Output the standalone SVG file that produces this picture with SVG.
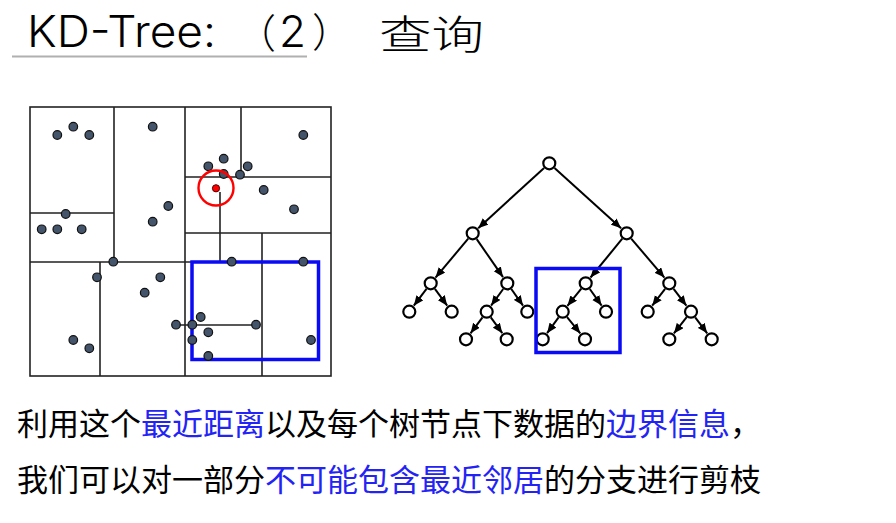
<svg xmlns="http://www.w3.org/2000/svg" width="896" height="523" viewBox="0 0 896 523">
<style>
.t{font-family:"Noto Sans CJK SC","Liberation Sans",sans-serif;fill:#000}
.lat{font-family:Inter,"Noto Sans","Liberation Sans",sans-serif;font-size:44px;font-weight:300;fill:#000}
.cjk{font-family:"Noto Sans CJK SC",sans-serif;font-size:40px;font-weight:300;fill:#000}
.body{font-size:31px}
.hl{fill:#2323f5}
.kl{stroke:#222;stroke-width:1.6;fill:none}
.pt{fill:#44546a;stroke:#111;stroke-width:1.2}
.nd{fill:#fff;stroke:#000;stroke-width:2.2}
.ed{stroke:#000;stroke-width:2;fill:none;marker-end:url(#ah)}
.bb{fill:none;stroke:#0a0af5;stroke-width:3.5}
</style>
<defs>
<marker id="ah" markerUnits="userSpaceOnUse" markerWidth="11" markerHeight="9" refX="10" refY="4.25" orient="auto">
<path d="M0,0 L10,4.25 L0,8.5 z" fill="#000"/>
</marker>
</defs>
<rect width="896" height="523" fill="#fff"/>
<g id="title">
<text class="lat" x="27" y="47" textLength="189" lengthAdjust="spacingAndGlyphs">KD-Tree:</text>
<text class="cjk" y="48"><tspan x="236">（</tspan><tspan class="lat" x="279" y="47">2</tspan><tspan x="312">）</tspan></text>
<text class="cjk" x="379" y="49" textLength="105" lengthAdjust="spacingAndGlyphs">查询</text>
<line x1="12" y1="56.5" x2="307" y2="56.5" stroke="#b0b0b0" stroke-width="2"/>
</g>
<g id="kd-space">
<rect x="30" y="107" width="301" height="269" class="kl"/>
<path class="kl" d="M114,107V262 M30,213H114 M30,262H192 M100,262V376 M185,107V376 M241,107V177 M185,177H331 M220,192V262 M185,233H331 M262,233V376 M176,325H256"/>
<rect x="192" y="262" width="126.5" height="97.5" class="bb"/>
<g id="points">
<circle class="pt" cx="57.3" cy="135" r="4.3"/><circle class="pt" cx="73.3" cy="126.7" r="4.3"/><circle class="pt" cx="89.3" cy="135" r="4.3"/>
<circle class="pt" cx="152.7" cy="126.7" r="4.3"/><circle class="pt" cx="168.3" cy="206" r="4.3"/><circle class="pt" cx="152.7" cy="221.7" r="4.3"/>
<circle class="pt" cx="65.7" cy="214" r="4.3"/><circle class="pt" cx="41.7" cy="229.3" r="4.3"/><circle class="pt" cx="57.3" cy="229.3" r="4.3"/><circle class="pt" cx="81.7" cy="229.3" r="4.3"/>
<circle class="pt" cx="303.3" cy="135" r="4.3"/><circle class="pt" cx="223.7" cy="158.7" r="4.3"/><circle class="pt" cx="208.3" cy="166.3" r="4.3"/><circle class="pt" cx="247.7" cy="166.3" r="4.3"/>
<circle class="pt" cx="223.7" cy="174" r="4.3"/><circle class="pt" cx="240" cy="174.7" r="4.3"/><circle class="pt" cx="263.7" cy="190" r="4.3"/><circle class="pt" cx="294" cy="209.3" r="4.3"/>
<circle class="pt" cx="113.3" cy="261.7" r="4.3"/><circle class="pt" cx="97" cy="277.3" r="4.3"/><circle class="pt" cx="160.3" cy="277.3" r="4.3"/><circle class="pt" cx="144.7" cy="292.7" r="4.3"/>
<circle class="pt" cx="176" cy="324.7" r="4.3"/><circle class="pt" cx="73.3" cy="340" r="4.3"/><circle class="pt" cx="89.3" cy="348.3" r="4.3"/>
<circle class="pt" cx="231.7" cy="261.7" r="4.3"/><circle class="pt" cx="303.3" cy="261.7" r="4.3"/><circle class="pt" cx="200.7" cy="317" r="4.3"/><circle class="pt" cx="192.3" cy="324.7" r="4.3"/>
<circle class="pt" cx="256" cy="324.7" r="4.3"/><circle class="pt" cx="208.3" cy="332.3" r="4.3"/><circle class="pt" cx="192.3" cy="340" r="4.3"/><circle class="pt" cx="311" cy="340" r="4.3"/><circle class="pt" cx="208.3" cy="356" r="4.3"/>
</g>
<g id="query">
<circle cx="216" cy="188" r="17.5" fill="none" stroke="#f00" stroke-width="2.4"/>
<circle cx="216" cy="188.3" r="3.6" fill="#f00" stroke="#500" stroke-width="1"/>
</g>
</g>
<g id="connectors">
<line class="ed" x1="544.1" y1="168.0" x2="478.2" y2="228.2"/>
<line class="ed" x1="554.5" y1="168.0" x2="621.1" y2="228.3"/>
<line class="ed" x1="468.2" y1="238.7" x2="435.5" y2="277.6"/>
<line class="ed" x1="476.7" y1="239.1" x2="503.0" y2="277.1"/>
<line class="ed" x1="622.3" y1="238.7" x2="590.5" y2="277.5"/>
<line class="ed" x1="631.2" y1="238.6" x2="664.4" y2="277.6"/>
<line class="ed" x1="426.5" y1="288.9" x2="413.8" y2="305.7"/>
<line class="ed" x1="434.9" y1="288.9" x2="447.2" y2="305.7"/>
<line class="ed" x1="503.2" y1="289.0" x2="491.1" y2="305.6"/>
<line class="ed" x1="511.3" y1="289.0" x2="523.0" y2="305.6"/>
<line class="ed" x1="581.3" y1="288.7" x2="567.4" y2="305.9"/>
<line class="ed" x1="589.8" y1="289.0" x2="601.6" y2="305.6"/>
<line class="ed" x1="665.1" y1="288.9" x2="652.2" y2="305.7"/>
<line class="ed" x1="673.6" y1="288.9" x2="686.4" y2="305.7"/>
<line class="ed" x1="482.5" y1="317.3" x2="470.5" y2="333.3"/>
<line class="ed" x1="490.8" y1="317.4" x2="502.3" y2="333.2"/>
<line class="ed" x1="558.6" y1="317.4" x2="547.1" y2="333.2"/>
<line class="ed" x1="567.1" y1="317.2" x2="580.3" y2="333.4"/>
<line class="ed" x1="686.7" y1="317.2" x2="673.9" y2="333.4"/>
<line class="ed" x1="695.2" y1="317.3" x2="707.2" y2="333.3"/>
</g>
<g id="tree-nodes">
<g id="n0"><circle class="nd" cx="549.3" cy="163.3" r="6"/></g>
<g id="n1"><circle class="nd" cx="472.7" cy="233.3" r="6"/></g>
<g id="n2"><circle class="nd" cx="626.7" cy="233.3" r="6"/></g>
<g id="n3"><circle class="nd" cx="430.7" cy="283.3" r="6"/></g>
<g id="n4"><circle class="nd" cx="507.3" cy="283.3" r="6"/></g>
<g id="n5"><circle class="nd" cx="585.7" cy="283.3" r="6"/></g>
<g id="n6"><circle class="nd" cx="669.3" cy="283.3" r="6"/></g>
<g id="n7"><circle class="nd" cx="409.3" cy="311.7" r="6"/></g>
<g id="n8"><circle class="nd" cx="451.7" cy="311.7" r="6"/></g>
<g id="n9"><circle class="nd" cx="486.7" cy="311.7" r="6"/></g>
<g id="n10"><circle class="nd" cx="527.3" cy="311.7" r="6"/></g>
<g id="n11"><circle class="nd" cx="562.7" cy="311.7" r="6"/></g>
<g id="n12"><circle class="nd" cx="606" cy="311.7" r="6"/></g>
<g id="n13"><circle class="nd" cx="647.7" cy="311.7" r="6"/></g>
<g id="n14"><circle class="nd" cx="691" cy="311.7" r="6"/></g>
<g id="n15"><circle class="nd" cx="466" cy="339.3" r="6"/></g>
<g id="n16"><circle class="nd" cx="506.7" cy="339.3" r="6"/></g>
<g id="n17"><circle class="nd" cx="542.7" cy="339.3" r="6"/></g>
<g id="n18"><circle class="nd" cx="585" cy="339.3" r="6"/></g>
<g id="n19"><circle class="nd" cx="669.3" cy="339.3" r="6"/></g>
<g id="n20"><circle class="nd" cx="711.7" cy="339.3" r="6"/></g>
</g>
<g id="pruned-box"><rect x="536" y="268.5" width="84" height="84" class="bb"/></g>
<g id="caption">
<text class="t body" x="17" y="435">利用这个<tspan class="hl">最近距离</tspan>以及每个树节点下数据的<tspan class="hl">边界信息</tspan>，</text>
<text class="t body" x="17" y="491">我们可以对一部分<tspan class="hl">不可能包含最近邻居</tspan>的分支进行剪枝</text>
</g>
</svg>
